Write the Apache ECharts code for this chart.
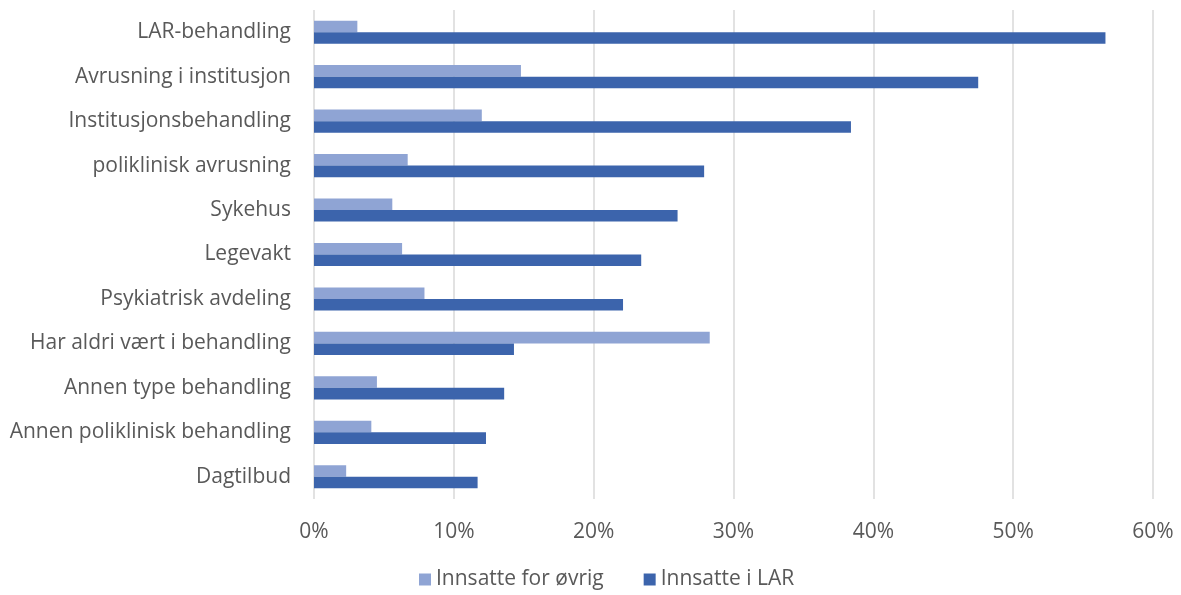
<!DOCTYPE html>
<html>
<head>
<meta charset="utf-8">
<script src="https://cdn.jsdelivr.net/npm/echarts@6/dist/echarts.min.js"></script>
<style>
  html, body { margin: 0; padding: 0; background: #fff; }
  #chart { width: 1181px; height: 595px; }
</style>
</head>
<body>
<div id="chart"></div>
<script>
  // behandlingstyper, fra toppen og ned
  var categories = [
    'LAR-behandling',
    'Avrusning i institusjon',
    'Institusjonsbehandling',
    'poliklinisk avrusning',
    'Sykehus',
    'Legevakt',
    'Psykiatrisk avdeling',
    'Har aldri vært i behandling',
    'Annen type behandling',
    'Annen poliklinisk behandling',
    'Dagtilbud'
  ];
  var ovrig = [3.1, 14.8, 12.0, 6.7, 5.6, 6.3, 7.9, 28.3, 4.5, 4.1, 2.3];
  var iLar = [56.6, 47.5, 38.4, 27.9, 26.0, 23.4, 22.1, 14.3, 13.6, 12.3, 11.7];
  var seriesNames = ['Innsatte for øvrig', 'Innsatte i LAR'];

  var chart = echarts.init(document.getElementById('chart'));
  var font = 'Open Sans';
  var option = {
    textStyle: { fontFamily: font },
    grid: { left: 314, right: 28, top: 10, bottom: 96 },
    legend: {
      bottom: 0,
      left: 414,
      itemWidth: 12,
      itemHeight: 12,
      itemGap: 40,
      icon: 'rect',
      textStyle: { fontSize: 21, color: '#595959', fontFamily: font },
      data: seriesNames
    },
    xAxis: {
      type: 'value',
      min: 0,
      max: 60,
      interval: 10,
      axisLine: { show: false },
      axisTick: { show: false },
      axisLabel: { formatter: '{value}%', fontSize: 21, color: '#595959', margin: 23 },
      splitLine: { lineStyle: { color: '#d9d9d9', width: 1.5 } }
    },
    yAxis: {
      type: 'category',
      inverse: true,
      data: categories,
      axisLine: { show: false },
      axisTick: { show: false },
      axisLabel: { fontSize: 21, color: '#595959', margin: 23 }
    },
    series: [
      {
        name: seriesNames[0],
        type: 'bar',
        data: ovrig,
        barGap: '0%',
        barCategoryGap: '48%',
        itemStyle: { color: '#8fa4d4' }
      },
      {
        name: seriesNames[1],
        type: 'bar',
        data: iLar,
        barGap: '0%',
        barCategoryGap: '48%',
        itemStyle: { color: '#3c64ac' }
      }
    ]
  };
  chart.setOption(option);
</script>
</body>
</html>
